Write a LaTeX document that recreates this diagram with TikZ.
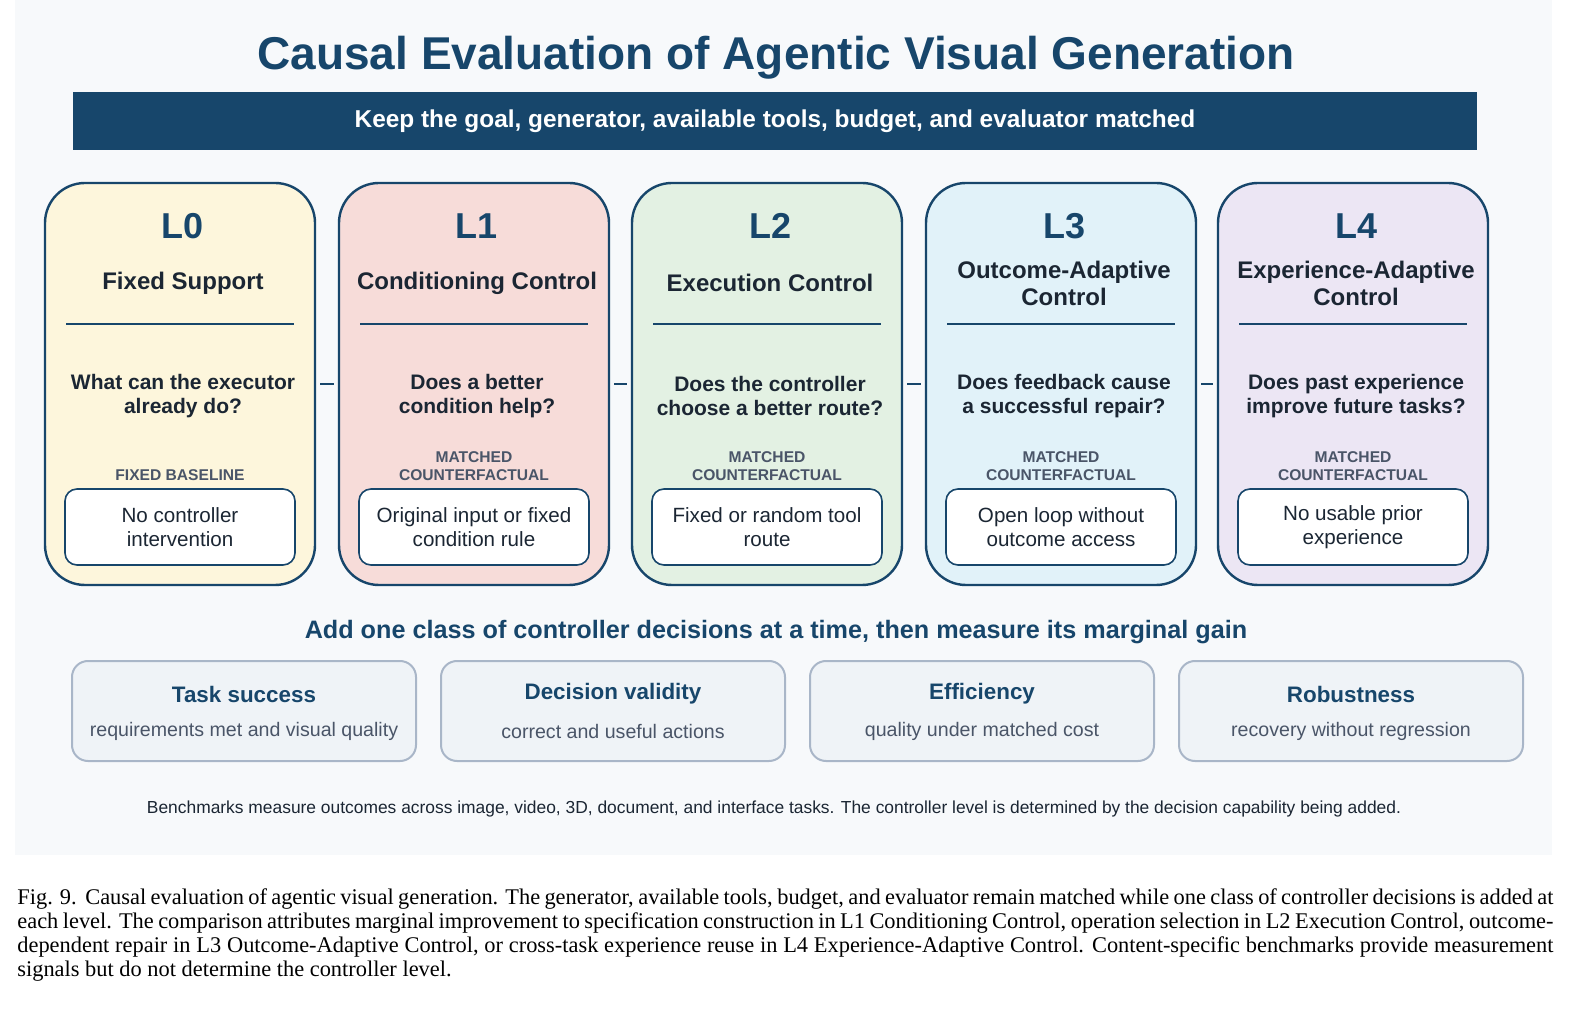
\documentclass[tikz,border=0pt]{standalone}
\usepackage{fontspec}
\setmainfont{Liberation Sans}
\newfontfamily\capfont{Liberation Serif}
\usetikzlibrary{positioning}
\definecolor{navy}{HTML}{17466B}
\definecolor{ink}{HTML}{1B2633}
\definecolor{slate}{HTML}{4A5568}
\definecolor{bgpanel}{HTML}{F7F9FB}
\definecolor{metricfill}{HTML}{EFF3F7}
\definecolor{metricdraw}{HTML}{A9B6C8}
\definecolor{fillA}{HTML}{FDF6DC}
\definecolor{fillB}{HTML}{F7DCD9}
\definecolor{fillC}{HTML}{E3F1E3}
\definecolor{fillD}{HTML}{E1F2F9}
\definecolor{fillE}{HTML}{ECE6F4}
\tikzset{
  card/.style={draw=navy, line width=1.2pt, rounded corners=20pt, minimum width=135pt, minimum height=201pt},
  level/.style={font=\fontsize{18}{20}\selectfont\bfseries, text=navy},
  ctitle/.style={font=\fontsize{12}{13.5}\selectfont\bfseries, text=ink, align=center},
  question/.style={font=\fontsize{10.5}{12}\selectfont\bfseries, text=ink, align=center},
  tag/.style={font=\fontsize{7.8}{9}\selectfont\bfseries, text=slate, align=center},
  rulebox/.style={draw=navy, fill=white, line width=0.8pt, rounded corners=6pt, minimum width=115pt, minimum height=38pt, align=center, font=\fontsize{10.3}{12}\selectfont, text=ink},
  metric/.style={draw=metricdraw, fill=metricfill, line width=1pt, rounded corners=8pt, minimum width=172pt, minimum height=50pt},
  link/.style={draw=navy, line width=1.2pt, shorten <=2pt, shorten >=2pt},
}
\begin{document}
\begin{tikzpicture}[x=0.5pt, y=-0.5pt]
  \useasboundingbox (0,0) rectangle (1574,1015);
  \fill[bgpanel] (15,0) rectangle (1552,855);

  % header
  \node[font=\fontsize{23}{27}\selectfont\bfseries, text=navy] (title) at (776,58) {Causal Evaluation of Agentic Visual Generation};
  \node[fill=navy, minimum width=702pt, minimum height=29pt, font=\fontsize{12.2}{14}\selectfont\bfseries, text=white] (banner) at (775,121) {Keep the goal, generator, available tools, budget, and evaluator matched};

  % level cards
  \foreach \i/\x/\col/\lvl/\name/\ques/\tagtxt/\base in {
    0/180/fillA/L0/{Fixed Support}/{What can the executor\\already do?}/{FIXED BASELINE}/{No controller\\intervention},
    1/474/fillB/L1/{Conditioning Control}/{Does a better\\condition help?}/{MATCHED\\COUNTERFACTUAL}/{Original input or fixed\\condition rule},
    2/767/fillC/L2/{Execution Control}/{Does the controller\\choose a better route?}/{MATCHED\\COUNTERFACTUAL}/{Fixed or random tool\\route},
    3/1061/fillD/L3/{Outcome-Adaptive\\Control}/{Does feedback cause\\a successful repair?}/{MATCHED\\COUNTERFACTUAL}/{Open loop without\\outcome access},
    4/1353/fillE/L4/{Experience-Adaptive\\Control}/{Does past experience\\improve future tasks?}/{MATCHED\\COUNTERFACTUAL}/{No usable prior\\experience}}{
    \node[card, fill=\col] (card\i) at (\x,384) {};
    \node[level] (lvl\i) at (\x+3,226) {\lvl};
    \node[ctitle] (name\i) at (\x+3,283) {\name};
    \draw[navy, line width=0.8pt] (\x-114,324) -- (\x+114,324);
    \node[question] (ques\i) at (\x+3,396) {\ques};
    \node[rulebox] (base\i) at (\x+0,527) {\base};
    \node[tag, above=0pt of base\i] (tag\i) {\tagtxt};
  }
  \foreach \a/\b in {0/1,1/2,2/3,3/4}
    \draw[link] (card\a.east) -- (card\b.west);

  % metrics
  \node[font=\fontsize{12.6}{14}\selectfont\bfseries, text=navy] (gain) at (776,632) {Add one class of controller decisions at a time, then measure its marginal gain};
  \foreach \j/\x/\head/\desc in {
    0/244/{Task success}/{requirements met and visual quality},
    1/613/{Decision validity}/{correct and useful actions},
    2/982/{Efficiency}/{quality under matched cost},
    3/1351/{Robustness}/{recovery without regression}}{
    \node[metric] (met\j) at (\x,711) {};
    \node[font=\fontsize{11.2}{13}\selectfont\bfseries, text=navy] (mhead\j) at (\x,694) {\head};
    \node[font=\fontsize{9.8}{11}\selectfont, text=slate] (mdesc\j) at (\x,731) {\desc};
  }
  \node[font=\fontsize{8.7}{10}\selectfont, text=ink] (note) at (774,809) {Benchmarks measure outcomes across image, video, 3D, document, and interface tasks. The controller level is determined by the decision capability being added.};

  % caption
  \node[anchor=north west, text width=768pt, align=justify, inner sep=0pt, font=\capfont\fontsize{11.2}{12}\selectfont] (cap) at (17,888) {Fig. 9.\ \ Causal evaluation of agentic visual generation. The generator, available tools, budget, and evaluator remain matched while one class of controller decisions is added at each level. The comparison attributes marginal improvement to specification construction in L1 Conditioning Control, operation selection in L2 Execution Control, outcome-dependent repair in L3 Outcome-Adaptive Control, or cross-task experience reuse in L4 Experience-Adaptive Control. Content-specific benchmarks provide measurement signals but do not determine the controller level.};
\end{tikzpicture}
\end{document}
